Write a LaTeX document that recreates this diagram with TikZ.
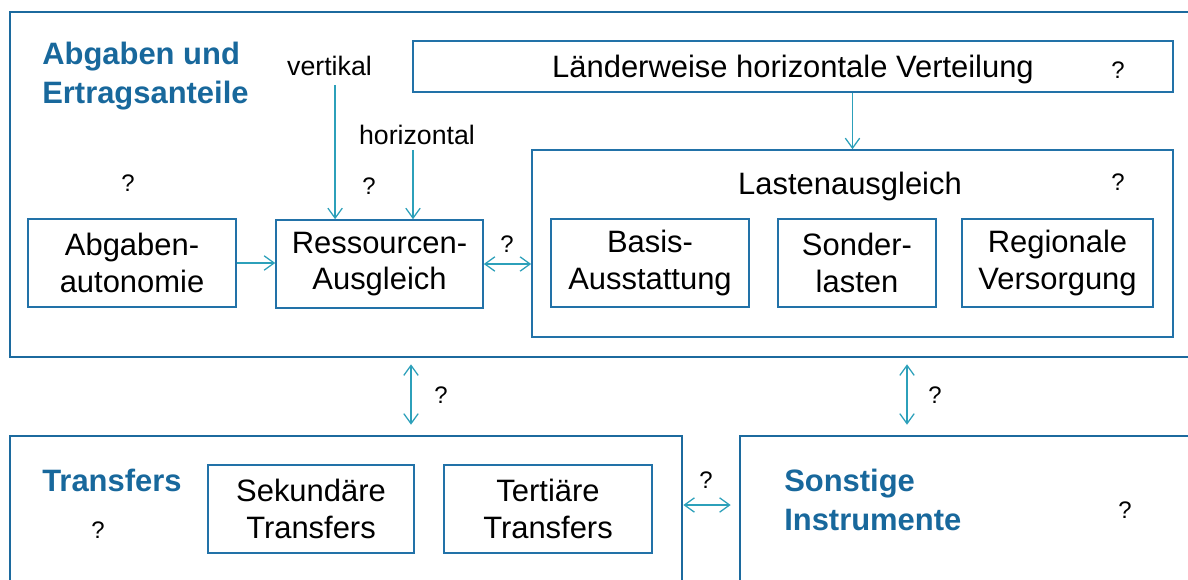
\documentclass[tikz,border=0pt]{standalone}
\usepackage{fontspec}
\setmainfont{Liberation Sans}
\usepackage{tikz}
\usetikzlibrary{arrows.meta,positioning,calc}

\definecolor{frameblue}{RGB}{28,106,158}
\definecolor{boxblue}{RGB}{34,114,168}
\definecolor{arrowteal}{RGB}{44,160,186}
\definecolor{titleblue}{RGB}{24,104,156}

\begin{document}
\begin{tikzpicture}[
    x=0.025cm, y=-0.025cm,
    frame/.style={rectangle, draw=frameblue, line width=1.8pt},
    box/.style={rectangle, draw=boxblue, line width=1.1pt, minimum height=2.2cm, align=center, font=\fontsize{22}{26}\selectfont, inner sep=2pt},
    title/.style={anchor=west, align=left, inner sep=0pt, text=titleblue, font=\fontsize{22}{28}\selectfont\bfseries},
    small/.style={font=\fontsize{19}{22}\selectfont},
    qmark/.style={font=\fontsize{17}{20}\selectfont},
    arrow/.style={-{Straight Barb[length=2.5mm,width=3.6mm]}, draw=arrowteal, line width=0.9pt},
    dblarrow/.style={{Straight Barb[length=2.5mm,width=3.6mm]}-{Straight Barb[length=2.5mm,width=3.6mm]}, draw=arrowteal, line width=0.9pt}
]

\useasboundingbox (0,0) rectangle (1188,579);
\clip (0,0) rectangle (1188,579);

% Outer frames
\node[frame, minimum width=29.75cm, minimum height=8.625cm] (top) at (605,184.5) {};
\node[frame, minimum width=16.8cm, minimum height=4.6cm] (transfers) at (346,528) {};
\node[frame, minimum width=11.75cm, minimum height=4.6cm] (sonstige) at (975,528) {};

% Titles
\node[title] (abgtitle) at (42,76) {Abgaben und\\Ertragsanteile};
\node[title] (trtitle) at (42,480) {Transfers};
\node[title] (sotitle) at (784,500) {Sonstige\\Instrumente};

% Upper boxes
\node[box, minimum width=5.2cm] (abg) at (132,263) {Abgaben-\\autonomie};
\node[box, minimum width=5.175cm] (res) at (379.5,264) {Ressourcen-\\Ausgleich};
\node[box, minimum width=19cm, minimum height=1.275cm, text depth=0pt] (land) at (793,66.5) {Länderweise horizontale Verteilung};
\node[rectangle, draw=boxblue, line width=1.1pt, minimum width=16.025cm, minimum height=4.675cm] (lasten) at (852.5,243.5) {};
\node[font=\fontsize{22}{26}\selectfont] (lastentitle) at (850,186) {Lastenausgleich};
\node[box, minimum width=4.95cm] (basis) at (650,263) {Basis-\\Ausstattung};
\node[box, minimum width=3.95cm] (sonder) at (857,263) {Sonder-\\lasten};
\node[box, minimum width=4.775cm] (regio) at (1057.5,263) {Regionale\\Versorgung};

% Lower boxes
\node[box, minimum width=5.15cm] (sek) at (311,509) {Sekundäre\\Transfers};
\node[box, minimum width=5.2cm] (ter) at (548,509) {Tertiäre\\Transfers};

% Small labels
\node[small] (vert) at (329.5,66) {vertikal};
\node[small] (horiz) at (417,135) {horizontal};
\node[qmark] (q1) at (128,183) {?};
\node[qmark] (q2) at (369,186) {?};
\node[qmark] (q3) at (507,244) {?};
\node[qmark] (q4) at (1118,70) {?};
\node[qmark] (q5) at (1118,182) {?};
\node[qmark] (q6) at (441,395) {?};
\node[qmark] (q7) at (935,395) {?};
\node[qmark] (q8) at (706,480) {?};
\node[qmark] (q9) at (98,530) {?};
\node[qmark] (q10) at (1125,510) {?};

% Connectors
\coordinate (c1) at (411,0);
\coordinate (c2) at (907,0);
\coordinate (c3) at (0,505);
\draw[arrow, shorten <=0.1cm] ([xshift=0.14cm]vert.south) -- ([xshift=0.14cm]vert.south |- res.north);
\draw[arrow] ([xshift=-0.1cm]horiz.south) -- ([xshift=-0.1cm]horiz.south |- res.north);
\draw[arrow] (land.south -| lasten.north) -- (lasten.north);
\draw[arrow] (abg.east) -- (abg.east -| res.west);
\draw[dblarrow] (res.east) -- (res.east -| lasten.west);
\draw[dblarrow, shorten <=0.15cm, shorten >=0.25cm] (c1 |- top.south) -- (c1 |- transfers.north);
\draw[dblarrow, shorten <=0.15cm, shorten >=0.25cm] (c2 |- top.south) -- (c2 |- sonstige.north);
\draw[dblarrow, shorten >=0.2cm] (transfers.east |- c3) -- (sonstige.west |- c3);

\end{tikzpicture}
\end{document}
